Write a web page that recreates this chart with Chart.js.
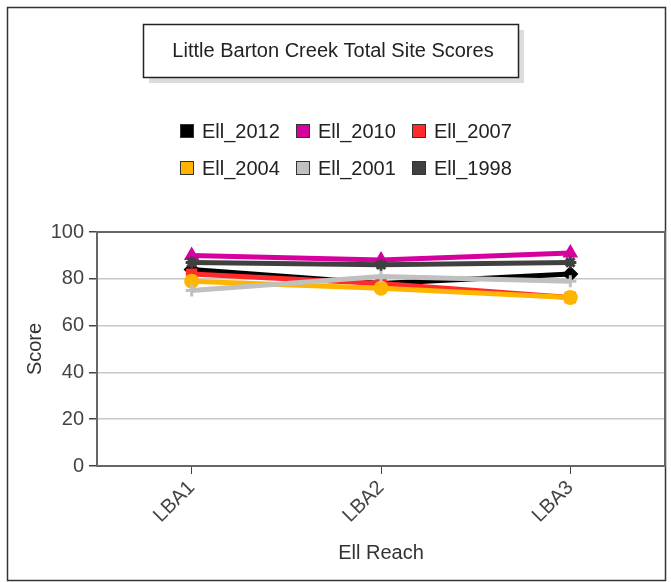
<!DOCTYPE html>
<html>
<head>
<meta charset="utf-8">
<script src="https://cdn.jsdelivr.net/npm/chart.js@4/dist/chart.umd.min.js"></script>
<style>
  html, body { margin: 0; padding: 0; background: #fff; }
  canvas { display: block; }
</style>
</head>
<body>
<canvas id="c" width="671" height="582"></canvas>
<script>
const categories = ["LBA1", "LBA2", "LBA3"];
const seriesNames = ["Ell_2012", "Ell_2010", "Ell_2007", "Ell_2004", "Ell_2001", "Ell_1998"];
const ell2012 = [84, 78, 82];
const ell2010 = [90, 88, 91];
const ell2007 = [82, 78, 72];
const ell2004 = [79, 76, 72];
const ell2001 = [75, 81, 79];
const ell1998 = [87, 86, 87];
const yTicks = [0, 20, 40, 60, 80, 100];
const chartTitle = "Little Barton Creek Total Site Scores";
const xTitle = "Ell Reach";
const yTitle = "Score";

const seriesValues = [ell2012, ell2010, ell2007, ell2004, ell2001, ell1998];
const colors = ["#000000", "#d6009f", "#ff2b2b", "#ffb400", "#c0c0c0", "#404040"];
const pointStyles = ["rectRot", "triangle", "rect", "circle", "cross", "star"];

const FONT = "'Liberation Sans', Arial, sans-serif";
Chart.defaults.font.family = FONT;
Chart.defaults.font.size = 20;
Chart.defaults.color = "#333";

const decor = {
  id: "decor",
  beforeDraw(chart) {
    const ctx = chart.ctx;
    ctx.save();
    ctx.fillStyle = "#fff";
    ctx.fillRect(0, 0, chart.width, chart.height);
    // outer frame
    ctx.strokeStyle = "#333";
    ctx.lineWidth = 1.5;
    ctx.strokeRect(7.5, 7.5, 658, 573);
    // title box with shadow
    ctx.fillStyle = "#dcdcdc";
    ctx.fillRect(149, 30, 375, 53);
    ctx.fillStyle = "#fff";
    ctx.fillRect(143, 24, 375, 53);
    ctx.strokeStyle = "#222";
    ctx.lineWidth = 1.5;
    ctx.strokeRect(143.5, 24.5, 375, 53);
    ctx.fillStyle = "#222";
    ctx.font = "20px " + FONT;
    ctx.textAlign = "center";
    ctx.textBaseline = "middle";
    ctx.fillText(chartTitle, 333, 51);
    // legend grid
    ctx.textAlign = "left";
    chart.data.datasets.forEach((ds, i) => {
      const col = i % 3, row = Math.floor(i / 3);
      const x = 180 + col * 116;
      const y = 131 + row * 37;
      ctx.fillStyle = ds.borderColor;
      ctx.fillRect(x, y - 7, 14, 14);
      ctx.strokeStyle = "#333";
      ctx.lineWidth = 1;
      ctx.strokeRect(x + 0.5, y - 6.5, 13, 13);
      ctx.fillStyle = "#222";
      ctx.fillText(ds.label, x + 22, y + 1);
    });
    ctx.restore();
  },
  beforeDatasetsDraw(chart) {
    const {ctx, chartArea: a} = chart;
    ctx.save();
    ctx.strokeStyle = "#666";
    ctx.lineWidth = 2;
    ctx.strokeRect(a.left, a.top, a.right - a.left, a.bottom - a.top);
    ctx.restore();
  }
};

new Chart(document.getElementById("c"), {
  type: "line",
  data: {
    labels: categories,
    datasets: seriesNames.map((name, i) => ({
      label: name,
      data: seriesValues[i],
      borderColor: colors[i],
      backgroundColor: colors[i],
      pointBackgroundColor: colors[i],
      pointBorderColor: colors[i],
      pointStyle: pointStyles[i],
      pointRadius: 6,
      pointBorderWidth: 3,
      borderWidth: 5,
      tension: 0,
      fill: false,
      order: seriesNames.length - i
    }))
  },
  options: {
    responsive: false,
    animation: false,
    devicePixelRatio: 1,
    layout: { autoPadding: false, padding: { top: 232, right: 6, left: 0, bottom: 0 } },
    plugins: {
      legend: { display: false },
      title: { display: false },
      tooltip: { enabled: false }
    },
    scales: {
      x: {
        offset: true,
        grid: { display: true, drawOnChartArea: false, drawTicks: true, tickLength: 8, tickColor: "#444" },
        border: { display: true, color: "#555", width: 2 },
        ticks: { color: "#444", maxRotation: 45, minRotation: 45, padding: 2, font: { size: 20 } },
        title: { display: true, text: xTitle, color: "#333", font: { size: 20 }, padding: { top: 4, bottom: 17 } },
        afterFit(scale) { scale.height = 116; scale.paddingRight = 0; scale.paddingLeft = 0; }
      },
      y: {
        min: 0,
        max: 100,
        afterBuildTicks(scale) { scale.ticks = yTicks.map(v => ({ value: v })); },
        grid: { color: "#c8c8c8", lineWidth: 1.5, tickLength: 8, tickColor: "#444" },
        border: { display: true, color: "#555", width: 2 },
        ticks: { color: "#444", padding: 5, font: { size: 20 } },
        title: { display: true, text: yTitle, color: "#333", font: { size: 20 }, padding: { top: 23, bottom: 0 } },
        afterFit(scale) { scale.width = 97; scale.paddingTop = 0; scale.paddingBottom = 0; }
      }
    }
  },
  plugins: [decor]
});
</script>
</body>
</html>
